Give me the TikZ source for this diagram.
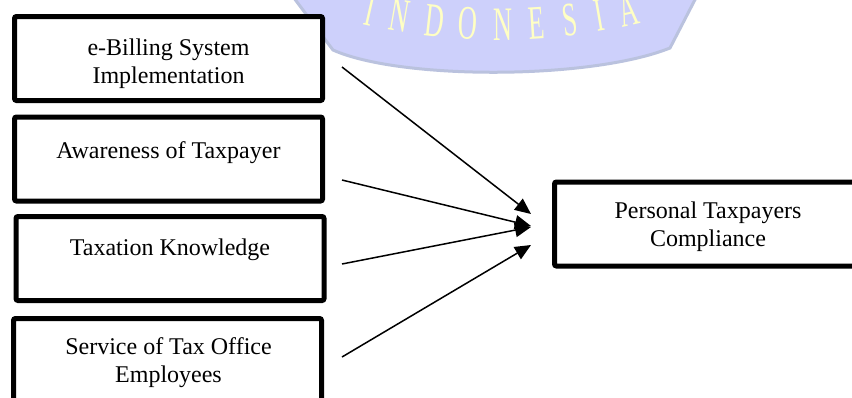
\documentclass[tikz,border=0pt]{standalone}
\usepackage{fontspec}
\setmainfont{Liberation Serif}
\newfontfamily\crestfont[FakeStretch=0.55]{Liberation Serif}
\usetikzlibrary{arrows.meta}

\definecolor{crestfill}{HTML}{CDD0FB}
\definecolor{crestedge}{HTML}{BAC2DE}
\definecolor{crestletter}{HTML}{FFFFC4}

\tikzset{
  varbox/.style={draw, fill=white, line width=2.5pt, rounded corners=1pt,
    minimum width=154pt, minimum height=42pt, inner sep=0pt},
  vartext/.style={align=center, inner sep=0pt, font=\fontsize{12}{14}\selectfont},
  crestchar/.style={anchor=base, inner sep=0pt, text=crestletter,
    font=\crestfont\fontsize{24}{24}\selectfont},
  infl/.style={-{Triangle[length=8pt, width=7pt]}, line width=0.75pt},
}

\begin{document}
\begin{tikzpicture}[x=0.5pt, y=-0.5pt]
  \useasboundingbox (0,0) rectangle (852,397);

  % watermark crest behind the diagram
  \filldraw[fill=crestfill, draw=crestedge, line width=1.5pt]
    (288,-10) -- (333,50) .. controls (400,80) and (590,80) .. (670,48) -- (700,-10) -- cycle;
  \foreach \ch/\cx/\cy/\ang [count=\i] in {I/367/25/-12.9, N/397/31/-9.9, D/433/36.2/-6.4,
      O/467/39.1/-3.2, N/503/40/0.3, E/538/38.8/3.6, S/572/35.6/6.9, I/602/31.2/9.8, A/632/25.2/12.8}
    \node[crestchar, rotate=\ang] (crest\i) at (\cx,\cy) {\ch};

  % variables
  \node[varbox] (ebill) at (168.5,58.5) {};
  \node[varbox] (aware) at (168.5,159) {};
  \node[varbox] (knowl) at (170,258.5) {};
  \node[varbox, minimum height=50pt] (serv) at (167.5,368.5) {};
  \node[varbox, minimum width=153.5pt] (comply) at (708,224) {};

  \node[vartext] (ebilltext) at (168.5,63.5) {e-Billing System\\Implementation};
  \node[vartext] (awaretext) at (168.5,152.5) {Awareness of Taxpayer};
  \node[vartext] (knowltext) at (170,249.5) {Taxation Knowledge};
  \node[vartext] (servtext) at (168.5,362.5) {Service of Tax Office\\Employees};
  \node[vartext] (complytext) at (708,226.5) {Personal Taxpayers\\Compliance};

  % arrow ends
  \coordinate (ebillout) at (342,67);
  \coordinate (awareout) at (342,180);
  \coordinate (knowlout) at (342,264);
  \coordinate (servout) at (342,357);
  \coordinate (in1) at (531,214);
  \coordinate (in2) at (531,226);
  \coordinate (in3) at (531,227);
  \coordinate (in4) at (531,245);

  \draw[infl] (ebillout) -- (in1);
  \draw[infl] (awareout) -- (in2);
  \draw[infl] (knowlout) -- (in3);
  \draw[infl] (servout) -- (in4);
\end{tikzpicture}
\end{document}
